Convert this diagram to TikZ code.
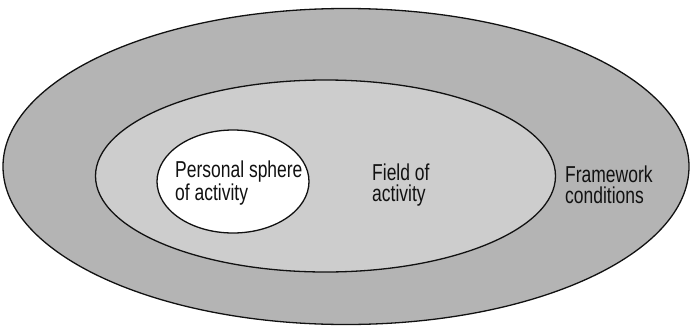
\documentclass[tikz,border=0pt]{standalone}
\usepackage{fontspec}
\setmainfont{Liberation Sans}[FakeStretch=0.76]
\usetikzlibrary{positioning}
\definecolor{Ink}{HTML}{111111}
\definecolor{OuterGrey}{HTML}{B4B4B4}
\definecolor{MidGrey}{HTML}{CDCDCD}
\tikzset{
  ring/.style={draw=Ink,line width=1.3pt},
  zonelabel/.style={anchor=base west,align=left,inner sep=0pt,text=Ink,font=\fontsize{23}{21}\selectfont}
}
\begin{document}
\begin{tikzpicture}[x=1pt,y=-1pt]
  \useasboundingbox (0,0) rectangle (691,327);
  % nested zones
  \draw[ring,fill=OuterGrey] (346,166.5) ellipse [x radius=343, y radius=158];
  \draw[ring,fill=MidGrey] (325.5,176) ellipse [x radius=230, y radius=96];
  \draw[ring,fill=white] (233,181.5) ellipse [x radius=76, y radius=51.5];
  % labels (base = last line)
  \node[zonelabel] (personal) at (175,200) {Personal sphere\\of activity};
  \node[zonelabel] (field) at (372,201) {Field of\\activity};
  \node[zonelabel] (frame) at (565,203) {Framework\\conditions};
\end{tikzpicture}
\end{document}
